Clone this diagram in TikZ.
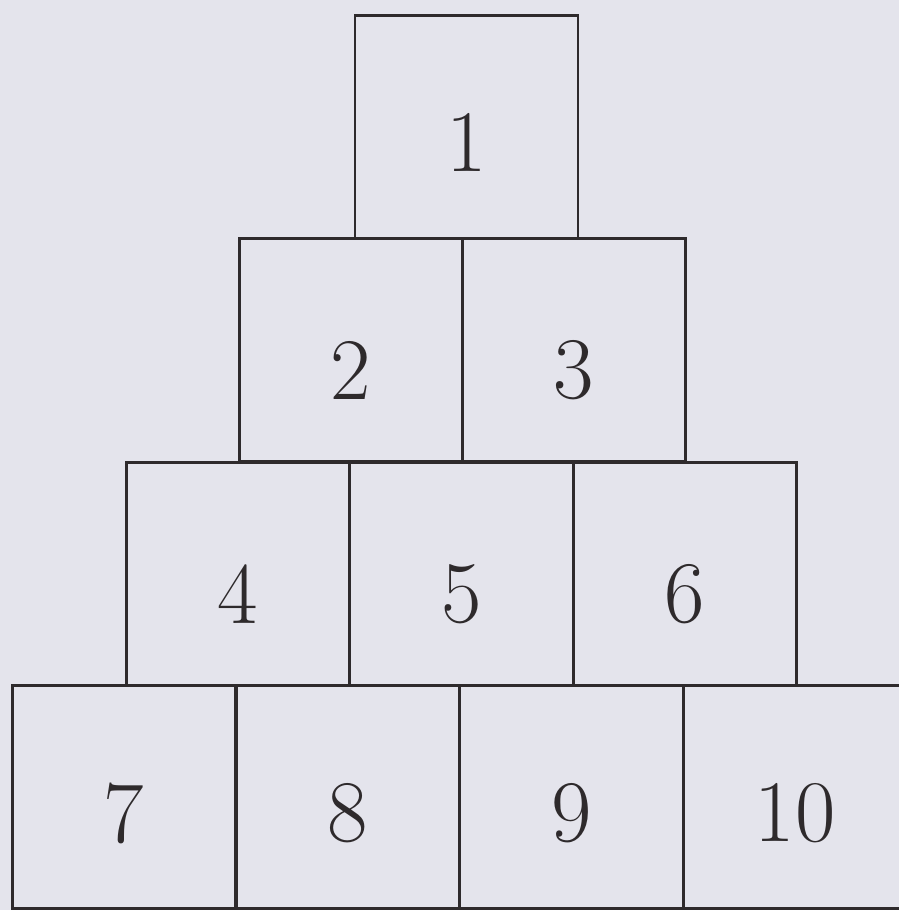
\documentclass[tikz,border=0pt]{standalone}
\usepackage{tikz}
\usetikzlibrary{positioning, calc}
\definecolor{PaperGrey}{HTML}{E4E4EC}
\definecolor{InkDark}{HTML}{2E2A2C}

\begin{document}
\begin{tikzpicture}[
    brick/.style={minimum size=2.23cm, inner sep=0pt, draw=InkDark, line width=0.8pt},
    num/.style={font=\fontsize{25}{30}\selectfont, InkDark}
]
% paper
\fill[PaperGrey] (0,0) rectangle (8.99,-9.10);
\useasboundingbox (0,0) rectangle (8.99,-9.10);
\clip (0,0) rectangle (8.99,-9.10);

% --- top row ---
\node[brick] (b1) at (4.665,-1.27) {};
\node[num] at ([yshift=-0.15cm]b1.center) {1};

% --- second row ---
\node[brick] (b2) at (3.51,-3.50) {};
\node[num] at ([yshift=-0.2cm]b2.center) {2};
\node[brick] (b3) at (5.74,-3.50) {};
\node[num] at ([yshift=-0.2cm]b3.center) {3};

% --- third row ---
\node[brick] (b4) at (2.38,-5.74) {};
\node[num] at ([yshift=-0.2cm]b4.center) {4};
\node[brick] (b5) at (4.615,-5.74) {};
\node[num] at ([yshift=-0.2cm]b5.center) {5};
\node[brick] (b6) at (6.85,-5.74) {};
\node[num] at ([yshift=-0.2cm]b6.center) {6};

% --- bottom row ---
\node[brick] (b7) at (1.24,-7.97) {};
\node[num] at ([yshift=-0.16cm]b7.center) {7};
\node[brick] (b8) at (3.48,-7.97) {};
\node[num] at ([yshift=-0.16cm]b8.center) {8};
\node[brick] (b9) at (5.715,-7.97) {};
\node[num] at ([yshift=-0.16cm]b9.center) {9};
\node[brick] (b10) at (7.95,-7.97) {};
\node[num] at ([yshift=-0.16cm]b10.center) {10};
\end{tikzpicture}
\end{document}
